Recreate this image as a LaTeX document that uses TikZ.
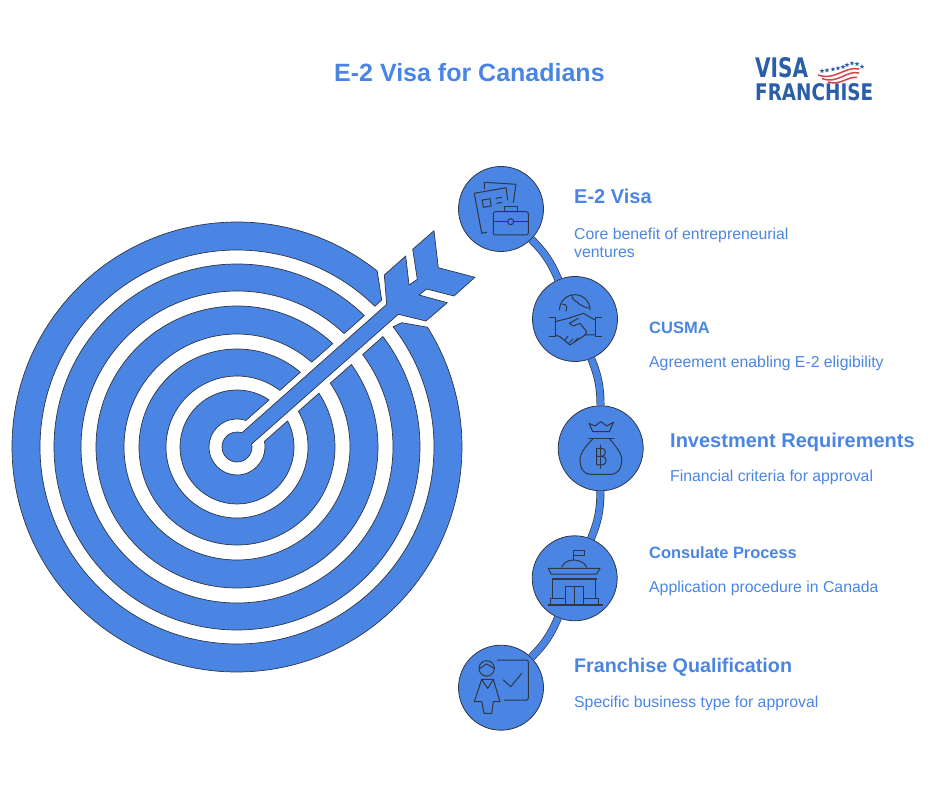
\documentclass[tikz,border=0pt]{standalone}
\usepackage{fontspec}
\setmainfont{Liberation Sans}
\newfontfamily\logofont{DejaVu Sans}
\usetikzlibrary{calc,positioning,shapes.geometric}
\definecolor{ringblue}{HTML}{4A85E4}
\definecolor{inkline}{HTML}{2F3644}
\definecolor{logoblue}{HTML}{2B5DA8}
\definecolor{logored}{HTML}{DB3F48}
\newcommand{\sized}[1]{\fontsize{#1}{18.5}\selectfont}
\tikzstyle{ringpart}  = [fill=ringblue, draw=inkline, line width=0.7pt, line join=round]
\tikzstyle{stopnode}  = [circle, minimum size=85pt, inner sep=0pt, fill=ringblue, draw=inkline, line width=0.8pt]
\tikzstyle{link}      = [draw=inkline, double=ringblue, double distance=6.6pt, line width=0.7pt]
\tikzstyle{icon}      = [draw=inkline, line width=1pt, line join=round, line cap=round]
\tikzstyle{headtext}  = [anchor=west, inner sep=0pt, text=ringblue, font=\bfseries]
\tikzstyle{bodytext}  = [anchor=west, inner sep=0pt, text=ringblue, align=left, font=\sized{15.8}]
\tikzstyle{logotext}  = [anchor=west, inner sep=0pt, text=logoblue, font=\logofont\bfseries]
\tikzstyle{stripe}    = [logored, line width=1.5pt]

\begin{document}
\begin{tikzpicture}[x=1pt,y=1pt]
	\useasboundingbox (0,0) rectangle (940,788);

	\node[headtext] (title) at (334,715) {\sized{25}E-2 Visa for Canadians};

	% logo
	\node[logotext] (logovisa) at (755,720) {\resizebox{53pt}{20pt}{VISA}};
	\node[logotext] (logofranchise) at (755,696) {\resizebox{118pt}{17pt}{FRANCHISE}};
	\foreach \sx/\sy in {822/717,827/717.7,833/718.7,838/719.7,843/721,847/723,852/724.7,857/724,862/721.3}
		\node[star, star points=5, star point ratio=2.4, fill=logoblue, inner sep=0pt, minimum size=5pt] at (\sx,\sy) {};
	\draw[stripe] (818,713) .. controls (835,707) and (845,722) .. (859,719);
	\draw[stripe] (822,709.5) .. controls (838,703.5) and (846,718) .. (859,715);
	\draw[stripe] (828,706) .. controls (840,702) and (848,712) .. (857,710.5);

	% target
	\begin{scope}[shift={(237,341)}]
		\draw[ringpart] (51.45:225pt) arc[start angle=51.45, end angle=392.17, radius=225pt]
			-- (164.7,124.3) -- (37.6:197pt) arc[start angle=397.6, end angle=45.6, radius=197pt]
			-- (144.7,147) -- cycle;
		\foreach \outr/\innr in {183/156,141/113,98/71,57/28} {
			\pgfmathsetmacro{\outa}{asin(14/\outr)}
			\pgfmathsetmacro{\inna}{asin(14/\innr)}
			\draw[ringpart] (41.5+\outa:\outr pt) arc[start angle=41.5+\outa, end angle=401.5-\outa, radius=\outr pt]
				-- (41.5-\inna:\innr pt) arc[start angle=401.5-\inna, end angle=41.5+\inna, radius=\innr pt] -- cycle;
		}
		% arrow and centre disc
		\draw[ringpart] (71:15pt) -- (149.7,142.7) -- (147.3,172) -- (168.7,191) -- (172,162) -- (180.3,167.7)
			-- (175.7,197.7) -- (197,216.3) -- (201.3,179.3) -- (238,169.7) -- (217,151) -- (189.7,158)
			-- (182,152) -- (210.3,144.3) -- (189,126) -- (161.3,132.7) -- (11.5:15pt)
			arc[start angle=11.5, end angle=-289, radius=15pt] -- cycle;
	\end{scope}

	% stops
	\node[stopnode] (visa) at (501,579) {};
	\node[stopnode] (cusma) at (575,469) {};
	\node[stopnode] (invest) at (600.7,339.7) {};
	\node[stopnode] (consulate) at (574.7,209.7) {};
	\node[stopnode] (qualify) at (501,100.3) {};

	\draw[link] (visa) to[bend left=11] (cusma);
	\draw[link] (cusma) to[bend left=11] (invest);
	\draw[link] (invest) to[bend left=11] (consulate);
	\draw[link] (consulate) to[bend left=11] (qualify);

	% papers and case
	\begin{scope}[shift={(visa.center)}, icon]
		\draw (-16.7,20) -- (-16.7,26.7) -- (15,24.7) -- (12.3,6.3);
		\draw (-14.3,-23.3) -- (-19.3,-24.3) -- (-26.7,15.7) -- (5,21.3) -- (6.7,9);
		\draw[rotate around={10:(-14.3,6)}] (-18.3,2.3) rectangle (-10.3,9.7);
		\draw (-5,10.7) -- (0.7,11.7) (-4.3,5.7) -- (0.7,6.7);
		\draw[rounded corners=2pt] (-7.7,-26) rectangle (27.3,-2.7);
		\draw (3.3,-2.7) -- (3.3,2.3) -- (16.3,2.3) -- (16.3,-2.7);
		\draw (-7.7,-12.7) -- (6.7,-12.7) (12.7,-12.7) -- (27.3,-12.7);
		\draw (9.7,-12.7) circle (3pt);
	\end{scope}

	% globe and hands
	\begin{scope}[shift={(cusma.center)}, icon]
		\draw (-15.5,9) arc[start angle=180, end angle=0, radius=15.3pt];
		\draw (-13,15) .. controls (-7,15) and (-8,10) .. (-9,8);
		\draw (-3,24) .. controls (-3,17) and (3,18) .. (4,15) .. controls (8,14) and (9,11) .. (14,11);
		\draw (-26,1.3) -- (-20,1.3) -- (-20,-17.7) -- (-26,-17.7);
		\draw (26.7,1.3) -- (20,1.3) -- (20,-17.7) -- (26.7,-17.7);
		\draw (-20,-2.7) -- (-6.7,0.7) -- (8.3,5.7) -- (20,-1);
		\draw (-20,-16) -- (-15,-17.7) -- (-5,-26) -- (10,-16) -- (20,-16);
		\draw (3.3,0.7) -- (-5.7,-4.3) -- (-1.7,-7) -- (5,-4.3) -- (11.7,-12.7) -- (10,-16);
		\draw (-10,-21) -- (-7,-17) (-6,-24) -- (-2,-20) (-1,-23) -- (3,-19);
	\end{scope}

	% money bag
	\begin{scope}[shift={(invest.center)}, icon]
		\draw (-8,16.7) -- (-11.7,25) -- (-5.7,22.3) -- (0,26.7) -- (6,22.3) -- (12.7,26) -- (8.7,16.7) -- cycle;
		\draw (-12.3,9.3) -- (13.3,9.3);
		\draw (-8,9.3) .. controls (-14,3) and (-20.7,-4) .. (-20.7,-11.7) .. controls (-20.7,-21) and (-16,-26) .. (-10.7,-26)
			-- (11,-26) .. controls (16,-26) and (21,-21) .. (21,-11.7) .. controls (21,-4) and (14,3) .. (9,9.3);
		\draw (0,3.3) -- (0,-20);
		\draw (-4,0) -- (1,0) .. controls (6,0) and (6,-8) .. (1,-8) -- (-4,-8) (1,-8) .. controls (7,-8) and (7,-16.7) .. (1,-16.7) -- (-4,-16.7) -- (-4,0);
	\end{scope}

	% consulate building
	\begin{scope}[shift={(consulate.center)}, icon]
		\draw (-1.3,18.3) -- (-1.3,27.7) -- (9.3,27.7) -- (9.3,22.3) -- (-1.3,22.3);
		\draw (-13,11) .. controls (-11,16) and (-6,18.3) .. (-1,18.3) .. controls (4,18.3) and (10,16) .. (12,11);
		\draw (-26.3,10) -- (25.3,10) -- (22,4.3) -- (-23.7,4.3) -- cycle;
		\draw[line width=1.5pt] (-22,-0.7) -- (21.7,-0.7);
		\draw (-22,-0.7) -- (-22,-20) (21,-0.7) -- (21,-20);
		\draw (-9.7,-26.7) -- (-9.7,-8.3) -- (8.7,-8.3) -- (8.7,-26.7) (-0.7,-8.3) -- (-0.7,-26.7);
		\draw (-24.7,-26.7) -- (-24.7,-20) -- (-10.7,-20);
		\draw (9.3,-20) -- (23.7,-20) -- (23.7,-26.7);
		\draw[line width=1.5pt] (-26.3,-26.7) -- (27.7,-26.7);
	\end{scope}

	% person and board
	\begin{scope}[shift={(qualify.center)}, icon]
		\draw (-14.3,19.3) circle (7.7pt);
		\draw (-21.3,19.3) .. controls (-18,21) and (-16,23) .. (-14.3,23.7) .. controls (-12,23) and (-10,21) .. (-7,19.3);
		\draw (-19.3,8.3) -- (-26.7,-14) -- (-19.3,-14) -- (-17,-25.7) -- (-9.3,-25.7) -- (-7.7,-14) -- (-1,-14) -- (-7.7,8.3) -- cycle;
		\draw (-19.3,8.3) -- (-13.3,-0.7) -- (-7.7,8.3);
		\draw[rounded corners=1.5pt] (-3.7,27.7) -- (27.3,27.7) -- (27.3,-12.3) -- (3,-12.3);
		\draw (2.3,7.7) -- (9.7,1) -- (20.7,14.3);
	\end{scope}

	% labels
	\node[headtext] (visahead) at (574,592) {\sized{20}E-2 Visa};
	\node[bodytext] (visabody) at (574,545) {Core benefit of entrepreneurial\\ventures};
	\node[headtext] (cusmahead) at (649,460) {\sized{16.5}CUSMA};
	\node[bodytext] (cusmabody) at (649,424.5) {Agreement enabling E-2 eligibility};
	\node[headtext] (investhead) at (670,346) {\sized{20}Investment Requirements};
	\node[bodytext] (investbody) at (670,310.5) {Financial criteria for approval};
	\node[headtext] (consulatehead) at (649,235) {\sized{16.4}Consulate Process};
	\node[bodytext] (consulatebody) at (649,199.5) {Application procedure in Canada};
	\node[headtext] (qualifyhead) at (574,121) {\sized{19.7}Franchise Qualification};
	\node[bodytext] (qualifybody) at (574,84.5) {Specific business type for approval};
\end{tikzpicture}
\end{document}
